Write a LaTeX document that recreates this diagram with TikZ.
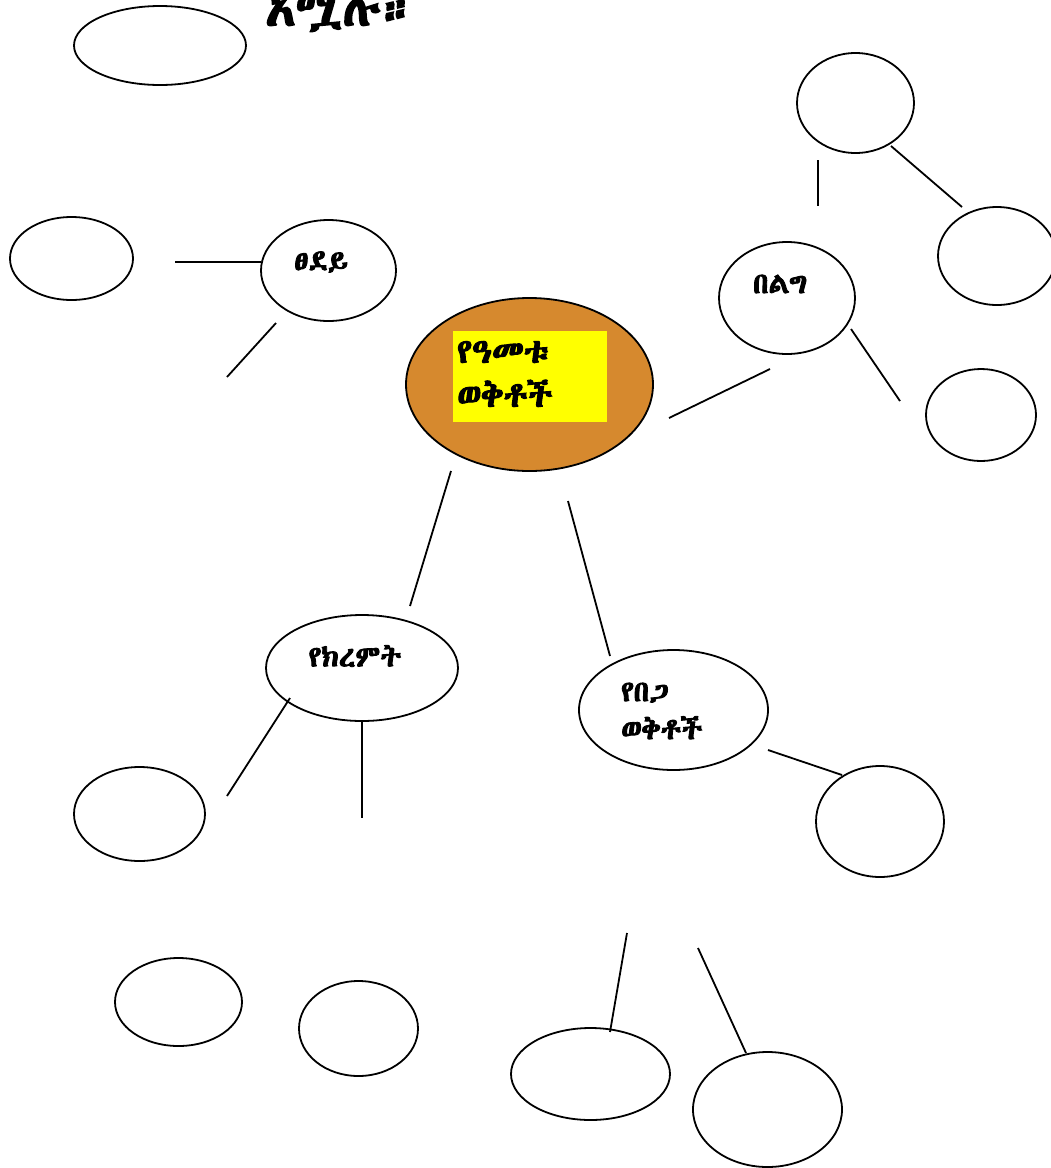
\documentclass[tikz,border=0pt]{standalone}
\usepackage{fontspec}
\IfFontExistsTF{Abyssinica SIL}
  {\newfontfamily\geez[AutoFakeBold=3]{Abyssinica SIL}}
  {\IfFontExistsTF{Noto Sans Ethiopic}
    {\newfontfamily\geez{Noto Sans Ethiopic}}
    {\newfontfamily\geez[AutoFakeBold=3]{FreeSerif}}}
\usetikzlibrary{shapes.geometric}
\definecolor{seasonorange}{HTML}{D6892E}
\definecolor{seasonyellow}{HTML}{FFFF00}

\begin{document}
\begin{tikzpicture}[x=1pt,y=-1pt,
  bubble/.style={ellipse,draw=black,line width=1.8pt,inner sep=0pt},
  word/.style={font=\geez\bfseries\fontsize{29}{38}\selectfont,align=left,inner sep=0pt},
  link/.style={draw=black,line width=1.8pt}
]
\useasboundingbox (0,0) rectangle (1051,1168);
% empty bubbles
\foreach \x/\y/\w/\h/\k in {
  160/45.5/172/79/1, 71.5/258.5/123/83/2, 855.5/103/117/100/3,
  997/256/118/98/4, 981/415/110/92/5, 139.5/814/131/94/6,
  880/821.5/128/111/7, 178.5/1002/127/88/8, 358.5/1028.5/119/95/9,
  590.5/1074/159/92/10, 767.5/1109.5/149/115/11
} {
  \node[bubble,minimum width=\w,minimum height=\h] (e\k) at (\x,\y) {};
}
% labelled bubbles
\node[bubble,fill=seasonorange,minimum width=247,minimum height=173] (year) at (529.5,384.5) {};
\node[fill=seasonyellow,minimum width=154,minimum height=91,inner sep=0pt] (yearbox) at (530,376.5) {};
\node[word,font=\geez\bfseries\fontsize{34}{44}\selectfont,anchor=west] (yeartext) at (457,374) {የዓመቱ\\ወቅቶች};
\node[bubble,minimum width=135,minimum height=101] (spring) at (328.5,270.5) {};
\node[word] (springtext) at (321,262) {ፀደይ};
\node[bubble,minimum width=136,minimum height=112] (autumn) at (787,298) {};
\node[word] (autumntext) at (780,284) {በልግ};
\node[bubble,minimum width=192,minimum height=106] (rainy) at (362,668) {};
\node[word] (rainytext) at (355,656) {የክረምት};
\node[bubble,minimum width=189,minimum height=120] (dry) at (673.5,710) {};
\node[word,anchor=west] (drytext) at (621,711) {የበጋ\\ወቅቶች};
\node[word,font=\geez\bfseries\fontsize{50}{54}\selectfont] (title) at (341,12) {አሟሉ።};
% connectors
\foreach \ax/\ay/\bx/\by/\k in {
  175/262/261/262/1, 276/323/227/377/2, 818/160/818/206/3,
  891/146/962/207/4, 851/329/900/401/5, 770/369/669/418/6,
  451/471/410/606/7, 568/501/610/656/8, 290/698/227/796/9,
  362/721/362/818/10, 768/750/842/775/11, 627/933/610/1032/12,
  698/948/746/1053/13
} {
  \coordinate (a\k) at (\ax,\ay);
  \coordinate (b\k) at (\bx,\by);
  \draw[link] (a\k) -- (b\k);
}
\end{tikzpicture}
\end{document}
